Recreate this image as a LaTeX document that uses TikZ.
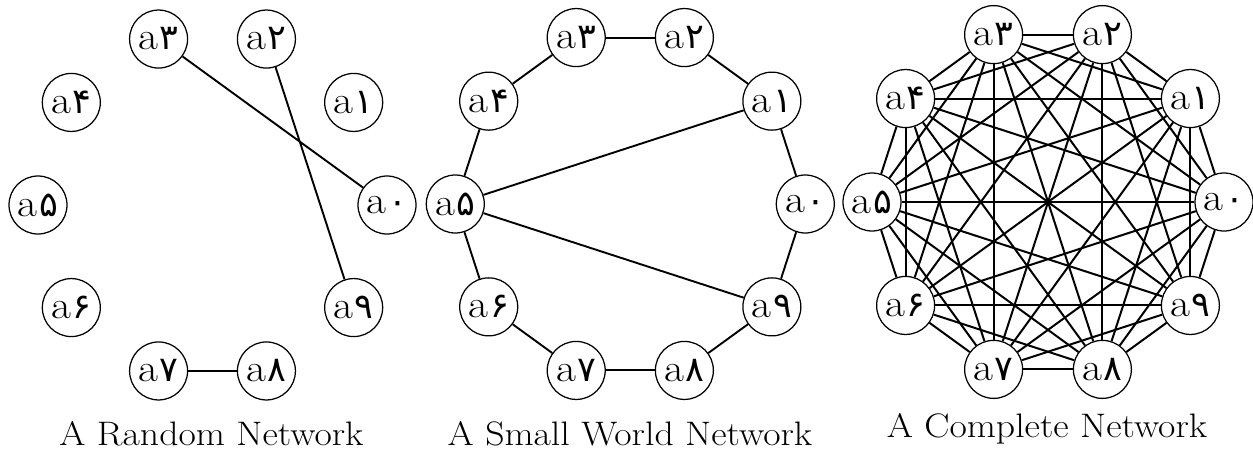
\documentclass[tikz,border=0pt]{standalone}
\usepackage{fontspec}
\newfontfamily\digitfont[Script=Arabic]{DejaVu Sans}
\newfontfamily\widefont{Latin Modern Roman}[FakeStretch=1.11]
% vertex label: Latin "a" followed by a Persian digit
\newcommand\vlabel[1]{a\hspace{1.5pt}{\digitfont\fontsize{35}{35}\selectfont #1}}
\begin{document}
\begin{tikzpicture}[x=1pt,y=-1pt,
  vtx/.style={circle,draw,line width=1.25pt,minimum size=58pt,inner sep=0pt,
              font=\widefont\fontsize{39}{39}\selectfont},
  link/.style={line width=1.9pt},
  caption/.style={anchor=base,inner sep=0pt,font=\widefont\fontsize{34}{40}\selectfont}]
\useasboundingbox (0,0) rectangle (1253,450);

% ten vertices on a circle for each of the three networks
\foreach \i/\d in {0/۰,1/۱,2/۲,3/۳,4/۴,5/۵,6/۶,7/۷,8/۸,9/۹} {
  \node[vtx] (r\i) at ({212.5+174.5*cos(36*\i)},{205-174.5*sin(36*\i)}) {\vlabel{\d}};
  \node[vtx] (s\i) at ({630.3+175*cos(36*\i)},{204-175*sin(36*\i)}) {\vlabel{\d}};
  \node[vtx] (c\i) at ({1048+176*cos(36*\i)},{202-176*sin(36*\i)}) {\vlabel{\d}};
}

% random network
\draw[link] (r3) -- (r0) (r2) -- (r9) (r7) -- (r8);

% small world network: ring plus two shortcuts
\foreach \i in {0,...,9} {
  \pgfmathtruncatemacro\nxt{mod(\i+1,10)}
  \draw[link] (s\i) -- (s\nxt);
}
\draw[link] (s5) -- (s1) (s5) -- (s9);

% complete network: every pair of vertices
\foreach \i in {0,...,8} {
  \pgfmathtruncatemacro\k{\i+1}
  \foreach \j in {\k,...,9} \draw[link,line width=2pt] (c\i) -- (c\j);
}

% captions
\node[caption] (t1) at (211.5,445) {A Random Network};
\node[caption] (t2) at (630,445) {A Small World Network};
\node[caption] (t3) at (1047,437) {A Complete Network};
\end{tikzpicture}
\end{document}
